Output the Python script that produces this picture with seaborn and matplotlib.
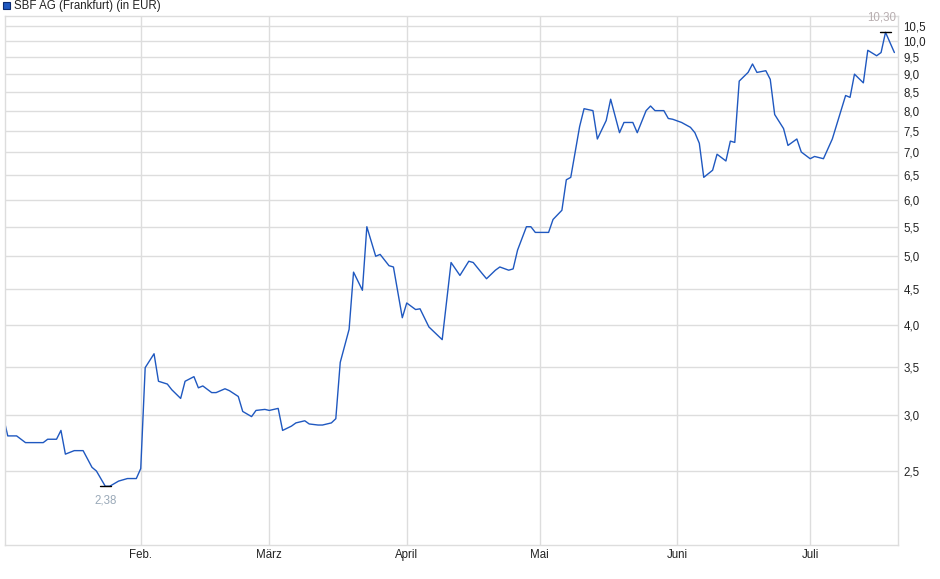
import matplotlib
matplotlib.use("Agg")
import matplotlib.pyplot as plt
import matplotlib.ticker as mticker
import seaborn as sns
import pandas as pd
import numpy as np

sns.set_style("white")
plt.rcParams['font.family'] = ['Liberation Sans', 'DejaVu Sans']

dates = [
 "2024-01-01","2024-01-02","2024-01-04","2024-01-06","2024-01-10","2024-01-11","2024-01-13","2024-01-14","2024-01-15","2024-01-17",
 "2024-01-19","2024-01-21","2024-01-22","2024-01-24","2024-01-25","2024-01-27","2024-01-29","2024-01-31",
 "2024-02-01","2024-02-02","2024-02-04","2024-02-05","2024-02-07","2024-02-08","2024-02-10","2024-02-11","2024-02-13","2024-02-14",
 "2024-02-15","2024-02-17","2024-02-18","2024-02-20","2024-02-21","2024-02-23","2024-02-24","2024-02-26","2024-02-27","2024-02-29",
 "2024-03-01","2024-03-03","2024-03-04","2024-03-06","2024-03-07","2024-03-09","2024-03-10","2024-03-12","2024-03-13","2024-03-15",
 "2024-03-16","2024-03-17","2024-03-19","2024-03-20","2024-03-22","2024-03-23","2024-03-25","2024-03-26","2024-03-28","2024-03-29","2024-03-31",
 "2024-04-01","2024-04-03","2024-04-04","2024-04-06","2024-04-09","2024-04-11","2024-04-13","2024-04-15","2024-04-16","2024-04-18",
 "2024-04-19","2024-04-21","2024-04-22","2024-04-24","2024-04-25","2024-04-26","2024-04-28","2024-04-29","2024-04-30",
 "2024-05-03","2024-05-04","2024-05-06","2024-05-07","2024-05-08","2024-05-10","2024-05-11","2024-05-13","2024-05-14","2024-05-16",
 "2024-05-17","2024-05-19","2024-05-20","2024-05-22","2024-05-23","2024-05-25","2024-05-26","2024-05-27","2024-05-29","2024-05-30","2024-05-31",
 "2024-06-02","2024-06-04","2024-06-05","2024-06-06","2024-06-07","2024-06-09","2024-06-10","2024-06-12","2024-06-13","2024-06-14",
 "2024-06-15","2024-06-17","2024-06-18","2024-06-19","2024-06-21","2024-06-22","2024-06-23","2024-06-25","2024-06-26","2024-06-28","2024-06-29",
 "2024-07-01","2024-07-02","2024-07-04","2024-07-06","2024-07-07","2024-07-09","2024-07-10","2024-07-11","2024-07-13","2024-07-14",
 "2024-07-16","2024-07-17","2024-07-18","2024-07-20",
]
prices = [
 2.98,2.80,2.80,2.74,2.74,2.77,2.77,2.85,2.64,2.67,
 2.67,2.53,2.50,2.38,2.38,2.42,2.44,2.44,
 2.52,3.49,3.65,3.34,3.31,3.25,3.16,3.34,3.39,3.27,
 3.29,3.22,3.22,3.26,3.24,3.18,3.03,2.98,3.04,3.05,
 3.04,3.06,2.85,2.89,2.92,2.94,2.91,2.90,2.90,2.92,
 2.96,3.55,3.95,4.75,4.48,5.50,5.00,5.03,4.85,4.83,4.10,
 4.30,4.21,4.22,3.98,3.82,4.90,4.70,4.92,4.90,4.73,
 4.65,4.78,4.83,4.78,4.80,5.10,5.50,5.50,5.40,
 5.40,5.63,5.80,6.40,6.45,7.60,8.05,8.00,7.30,7.75,
 8.30,7.45,7.70,7.70,7.45,8.00,8.12,8.00,8.00,7.80,7.78,
 7.70,7.58,7.45,7.20,6.45,6.60,6.95,6.80,7.25,7.22,
 8.80,9.05,9.30,9.05,9.10,8.85,7.90,7.55,7.15,7.30,7.00,
 6.85,6.90,6.85,7.30,7.65,8.40,8.35,9.00,8.75,9.72,
 9.55,9.65,10.30,9.65,
]
yticks = [2.5,3.0,3.5,4.0,4.5,5.0,5.5,6.0,6.5,7.0,7.5,8.0,8.5,9.0,9.5,10.0,10.5]
month_ticks = ["2024-02-01","2024-03-01","2024-04-01","2024-05-01","2024-06-01","2024-07-01"]
month_labels = ["Feb.","März","April","Mai","Juni","Juli"]
title = "SBF AG (Frankfurt) (in EUR)"

df = pd.DataFrame({"date": pd.to_datetime(dates), "price": prices})
color = "#1f58c0"
grid = "#dddddd"

fig = plt.figure(figsize=(9.4, 5.79), dpi=100)
ax = fig.add_axes([0.0055, 0.059, 0.9495, 0.913])
sns.lineplot(data=df, x="date", y="price", ax=ax, color=color, linewidth=1.0)
ax.set_yscale("log")
ax.set_ylim(1.97, 10.85)
ax.set_xlim(pd.Timestamp("2024-01-01 10:00"), pd.Timestamp("2024-07-20 18:00"))

ax.yaxis.set_major_locator(mticker.FixedLocator(yticks))
ax.yaxis.set_minor_locator(mticker.NullLocator())
ax.yaxis.set_major_formatter(mticker.FuncFormatter(lambda v, p: f"{v:.1f}".replace(".", ",")))
ax.yaxis.tick_right()
ax.set_xticks(pd.to_datetime(month_ticks))
ax.set_xticklabels(month_labels)
ax.tick_params(axis="both", length=0, labelsize=8.3, colors="#222222", pad=3)
ax.tick_params(axis="y", pad=4)
ax.grid(True, color=grid, linewidth=1.0)
for s in ax.spines.values():
    s.set_color(grid)
    s.set_linewidth(1.0)
ax.set_xlabel("")
ax.set_ylabel("")

imin = int(np.argmin(prices)); imax = int(np.argmax(prices))
for i, off, va in [(imin, -6, "top"), (imax, 6, "bottom")]:
    d = df["date"].iloc[i]; v = prices[i]
    ax.plot([d - pd.Timedelta(days=1.3), d + pd.Timedelta(days=1.3)], [v, v], color="black", lw=1.0)
    ax.annotate(f"{v:.2f}".replace(".", ","), (d, v), xytext=(-3 if i == imax else 0, off),
                textcoords="offset points", ha="center", va=va, fontsize=8.3,
                color="#9aa9b8" if i == imin else "#b8aeb0")

fig.patches.append(plt.Rectangle((0.0035, 0.9845), 0.0075, 0.0125, transform=fig.transFigure,
                                 facecolor=color, edgecolor="#0a2a70", lw=0.8))
fig.text(0.0145, 0.9905, title, fontsize=8.3, va="center", ha="left", color="#222222")

fig.savefig("out.png", dpi=100)
